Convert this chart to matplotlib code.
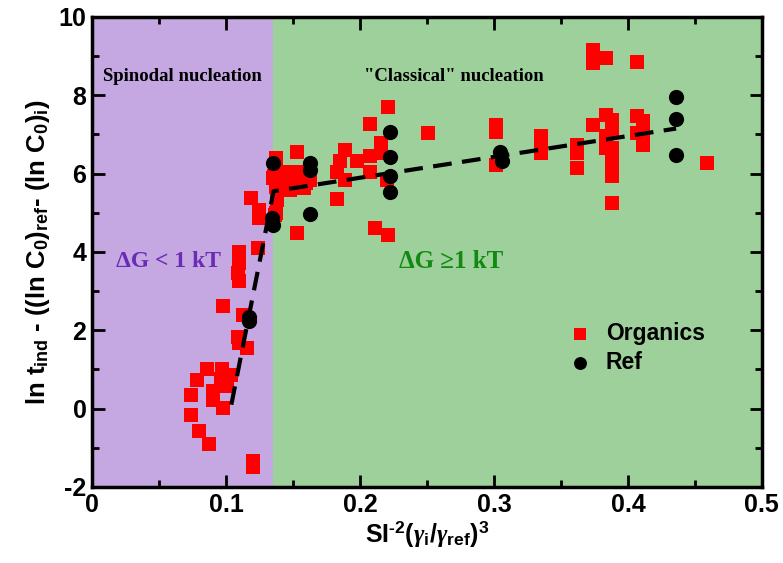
import matplotlib
matplotlib.use("Agg")
import matplotlib.pyplot as plt
from matplotlib.ticker import MultipleLocator

# red squares (organics)
org_x = [0.110, 0.116, 0.0855, 0.078, 0.097, 0.104, 0.074, 0.090, 0.090, 0.1005,
         0.098, 0.074, 0.080, 0.087, 0.120, 0.120, 0.096,
         0.119, 0.125, 0.125, 0.124, 0.110, 0.110, 0.109, 0.110, 0.098, 0.113, 0.109,
         0.137, 0.136, 0.137, 0.137, 0.1353, 0.1428, 0.150, 0.158, 0.145, 0.153, 0.160,
         0.138, 0.148, 0.158, 0.138, 0.1366, 0.153, 0.153, 0.163,
         0.221, 0.2075, 0.251, 0.189, 0.185, 0.1975, 0.2075, 0.216, 0.216, 0.183,
         0.189, 0.2075, 0.220, 0.183, 0.211, 0.221,
         0.3015, 0.3015, 0.3015, 0.335, 0.335, 0.335, 0.3617, 0.3617, 0.3617,
         0.3736, 0.3736, 0.384, 0.3736, 0.384, 0.388, 0.388, 0.384, 0.384, 0.388,
         0.388, 0.388, 0.388, 0.388,
         0.407, 0.407, 0.411, 0.411, 0.407, 0.411, 0.459]
org_y = [1.68, 1.55, 1.01, 0.74, 1.01, 0.87, 0.36, 0.44, 0.23, 0.57,
         0.02, -0.15, -0.56, -0.89, -1.33, -1.50, 0.75,
         5.37, 5.08, 4.87, 4.11, 4.01, 3.72, 3.46, 3.25, 2.63, 2.40, 1.84,
         6.40, 5.93, 5.67, 5.00, 5.88, 6.05, 6.05, 6.05, 5.80, 5.80, 5.76,
         5.59, 5.59, 5.63, 5.33, 4.95, 6.56, 4.48, 5.84,
         7.71, 7.27, 7.03, 6.61, 6.31, 6.31, 6.44, 6.78, 6.52, 6.05,
         5.84, 6.05, 5.84, 5.35, 4.61, 4.44,
         7.24, 7.07, 6.22, 6.95, 6.73, 6.52, 6.73, 6.52, 6.14,
         9.16, 8.82, 8.95, 7.24, 7.50, 7.37, 7.12, 6.95, 6.65, 6.65,
         6.31, 6.10, 5.93, 5.26,
         8.86, 7.46, 7.33, 7.07, 7.03, 6.73, 6.27]

# black circles (reference)
ref_x = [0.1348, 0.134, 0.135, 0.117, 0.117, 0.163, 0.163, 0.163,
         0.2224, 0.2224, 0.2224, 0.2224, 0.3045, 0.306, 0.4358, 0.4358, 0.4358]
ref_y = [6.27, 4.86, 4.69, 2.35, 2.23, 6.28, 6.10, 4.97,
         7.05, 6.42, 5.93, 5.53, 6.56, 6.31, 7.95, 7.39, 6.48]

# piecewise fit
fit_x = [0.104, 0.1355, 0.436]
fit_y = [0.10, 5.55, 7.15]

x_split = 0.135

plt.rcParams['font.family'] = ['Liberation Sans', 'DejaVu Sans']
plt.rcParams['font.weight'] = 'bold'
plt.rcParams['axes.labelweight'] = 'bold'
plt.rcParams['mathtext.fontset'] = 'custom'
plt.rcParams['mathtext.rm'] = 'Liberation Sans:bold'
plt.rcParams['mathtext.it'] = 'Liberation Serif:bold:italic'
plt.rcParams['mathtext.bf'] = 'Liberation Sans:bold'

fig = plt.figure(figsize=(7.83, 5.63), dpi=100)
ax = fig.add_axes([0.1175, 0.135, 0.8555, 0.835])

ax.axvspan(0, x_split, color='#c5a7e1', zorder=0)
ax.axvspan(x_split, 0.5, color='#9dd09b', zorder=0)

ax.scatter(org_x, org_y, marker='s', s=95, color='#ff0000', zorder=3,
           linewidths=0, label='Organics')
ax.scatter(ref_x, ref_y, marker='o', s=120, color='black', zorder=4,
           linewidths=0, label='Ref')
ax.plot(fit_x, fit_y, color='black', lw=3, dashes=(4.5, 2.5), zorder=5)

ax.set_xlim(0, 0.5)
ax.set_ylim(-2, 10)
ax.xaxis.set_minor_locator(MultipleLocator(0.05))
ax.yaxis.set_minor_locator(MultipleLocator(1))
ax.set_xticks([0, 0.1, 0.2, 0.3, 0.4, 0.5])
ax.set_xticklabels(['0', '0.1', '0.2', '0.3', '0.4', '0.5'])
ax.set_yticks([-2, 0, 2, 4, 6, 8, 10])
ax.set_yticklabels(['-2', '0', '2', '4', '6', '8', '10'])
for lab in ax.get_xticklabels() + ax.get_yticklabels():
    lab.set_fontsize(18)
    lab.set_fontweight('bold')
ax.tick_params(which='both', direction='in', top=True, right=True, width=2)
ax.tick_params(which='major', length=9, pad=4)
ax.tick_params(which='minor', length=5)
for sp in ax.spines.values():
    sp.set_linewidth(2.5)

ax.set_xlabel('SI$^{\u2010 2}$($\\gamma_\\mathrm{i}$/$\\gamma_\\mathrm{ref}$)$^3$',
              fontsize=18, fontweight='bold', labelpad=2)
ax.set_ylabel('ln t$_{\\mathrm{ind}}$ - ((ln C$_0$)$_{\\mathrm{ref}}$- (ln C$_0$)$_{\\mathrm{i}}$)',
              fontsize=18.5, fontweight='bold', labelpad=5)

serif = ['Liberation Serif', 'DejaVu Serif']
ax.text(0.008, 8.47, 'Spinodal nucleation', family=serif, fontsize=13.5,
        fontweight='bold', va='center', ha='left')
ax.text(0.27, 8.47, '"Classical" nucleation', family=serif, fontsize=13.5,
        fontweight='bold', va='center', ha='center')
ax.text(0.018, 3.75, '\u0394G < 1 kT', family=serif, fontsize=17,
        fontweight='bold', va='center', ha='left', color='#6a2cb5')
ax.text(0.229, 3.75, '\u0394G \u22651 kT', family=serif, fontsize=18,
        fontweight='bold', va='center', ha='left', color='#118a11')

ax.legend(loc='upper left', bbox_to_anchor=(0.68, 0.37), frameon=False,
          fontsize=16.5, handletextpad=0.15, borderaxespad=0, labelspacing=0.25,
          markerscale=0.85)

fig.savefig('out.png', dpi=100)
